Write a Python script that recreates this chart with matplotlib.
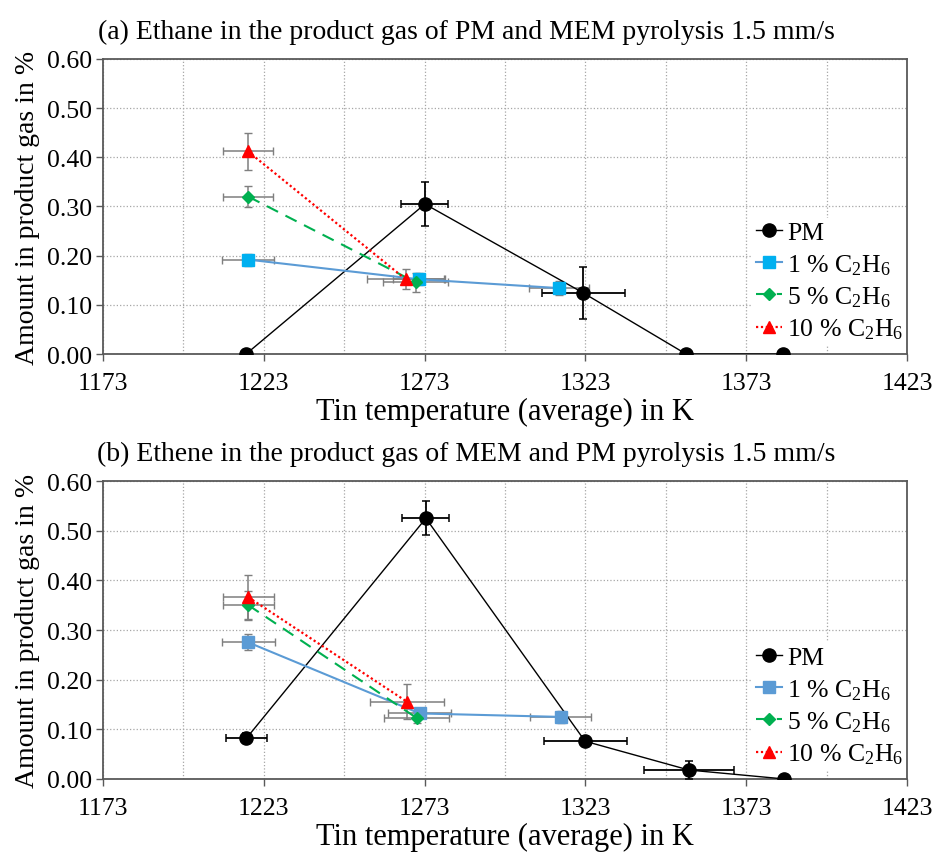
import numpy as np
import matplotlib
matplotlib.use("Agg")
import matplotlib.pyplot as plt
from matplotlib.ticker import FormatStrFormatter

plt.rcParams["font.family"] = ["Liberation Serif", "DejaVu Serif"]
plt.rcParams["mathtext.default"] = "regular"

# (a) Ethane
pm_x_a = [1217.5, 1273.1, 1322.4, 1354.3, 1384.3]
pm_y_a = [0.0, 0.305, 0.124, 0.0, 0.0]
pm_xerr_a = [0, 7.3, 12.8, 0, 0]
pm_yerr_a = [0, 0.045, 0.052, 0, 0]

c1_x_a = [1218.1, 1271.2, 1314.8]
c1_y_a = [0.192, 0.152, 0.134]
c1_xerr_a = [8.0, 8.0, 9.4]
c1_yerr_a = [0.012, 0.012, 0.015]

c5_x_a = [1218.2, 1270.2]
c5_y_a = [0.320, 0.146]
c5_xerr_a = [7.8, 10.0]
c5_yerr_a = [0.022, 0.019]

c10_x_a = [1218.1, 1267.1]
c10_y_a = [0.412, 0.152]
c10_xerr_a = [7.8, 12.0]
c10_yerr_a = [0.038, 0.020]

# (b) Ethene
pm_x_b = [1217.6, 1273.4, 1322.9, 1355.2, 1384.9]
pm_y_b = [0.082, 0.525, 0.076, 0.018, 0.0]
pm_xerr_b = [6.4, 7.3, 12.9, 13.9, 0]
pm_yerr_b = [0.010, 0.034, 0.010, 0.018, 0]

c1_x_b = [1218.2, 1271.5, 1315.3]
c1_y_b = [0.275, 0.132, 0.125]
c1_xerr_b = [8.2, 9.8, 9.5]
c1_yerr_b = [0.016, 0.010, 0.012]

c5_x_b = [1218.2, 1270.5]
c5_y_b = [0.350, 0.123]
c5_xerr_b = [7.9, 10.2]
c5_yerr_b = [0.028, 0.010]

c10_x_b = [1218.2, 1267.4]
c10_y_b = [0.366, 0.156]
c10_xerr_b = [8.0, 11.5]
c10_yerr_b = [0.045, 0.036]

x_ticks = [1173, 1223, 1273, 1323, 1373, 1423]
x_grid_minor = [1198, 1248, 1298, 1348, 1398]
y_ticks = [0.0, 0.1, 0.2, 0.3, 0.4, 0.5, 0.6]

labels = ["PM", "1 % C$_2$H$_6$", "5 % C$_2$H$_6$", "10 % C$_2$H$_6$"]
titles = ["(a) Ethane in the product gas of PM and MEM pyrolysis 1.5 mm/s",
          "(b) Ethene in the product gas of MEM and PM pyrolysis 1.5 mm/s"]

fig = plt.figure(figsize=(9.32, 8.53), dpi=100)
ax_a = fig.add_axes([0.1105, 0.5838, 0.8627, 0.3459])
ax_b = fig.add_axes([0.1105, 0.0856, 0.8627, 0.3493])

panels = [
    (ax_a, titles[0], (pm_x_a, pm_y_a, pm_xerr_a, pm_yerr_a),
     (c1_x_a, c1_y_a, c1_xerr_a, c1_yerr_a),
     (c5_x_a, c5_y_a, c5_xerr_a, c5_yerr_a),
     (c10_x_a, c10_y_a, c10_xerr_a, c10_yerr_a), "#00B0F0"),
    (ax_b, titles[1], (pm_x_b, pm_y_b, pm_xerr_b, pm_yerr_b),
     (c1_x_b, c1_y_b, c1_xerr_b, c1_yerr_b),
     (c5_x_b, c5_y_b, c5_xerr_b, c5_yerr_b),
     (c10_x_b, c10_y_b, c10_xerr_b, c10_yerr_b), "#5B9BD5"),
]

for ax, title, pm, c1, c5, c10, c1_face in panels:
    handles = []
    # PM
    ax.errorbar(pm[0], pm[1], xerr=pm[2], yerr=pm[3], fmt="none",
                ecolor="black", elinewidth=1.3, capsize=3, capthick=1.1, zorder=3)
    h, = ax.plot(pm[0], pm[1], color="black", lw=1.0, marker="o",
                 markersize=9.5, zorder=4)
    handles.append(h)
    # 1 %
    ax.errorbar(c1[0], c1[1], xerr=c1[2], yerr=c1[3], fmt="none",
                ecolor="#7F7F7F", elinewidth=1.1, capsize=3, capthick=1.0, zorder=3)
    h, = ax.plot(c1[0], c1[1], color="#5B9BD5", lw=1.5, marker="s",
                 markersize=8, markerfacecolor=c1_face, markeredgecolor=c1_face,
                 zorder=4)
    handles.append(h)
    # 5 %
    ax.errorbar(c5[0], c5[1], xerr=c5[2], yerr=c5[3], fmt="none",
                ecolor="#7F7F7F", elinewidth=1.1, capsize=3, capthick=1.0, zorder=3)
    h, = ax.plot(c5[0], c5[1], color="#00B050", lw=1.5, ls=(0, (6, 4)),
                 marker="D", markersize=6.5, zorder=4)
    handles.append(h)
    # 10 %
    ax.errorbar(c10[0], c10[1], xerr=c10[2], yerr=c10[3], fmt="none",
                ecolor="#7F7F7F", elinewidth=1.1, capsize=3, capthick=1.0, zorder=3)
    h, = ax.plot(c10[0], c10[1], color="#FF0000", lw=1.6, ls=(0, (1, 1.2)),
                 marker="^", markersize=9, zorder=4)
    handles.append(h)

    ax.set_xlim(1173, 1423)
    ax.set_ylim(0, 0.6)
    ax.set_xticks(x_ticks)
    ax.set_xticks(x_grid_minor, minor=True)
    ax.set_yticks(y_ticks)
    ax.yaxis.set_major_formatter(FormatStrFormatter("%.2f"))
    ax.grid(which="both", axis="x", color="#A6A6A6", ls=":", lw=0.9)
    ax.grid(which="major", axis="y", color="#A6A6A6", ls=":", lw=0.9)
    ax.set_axisbelow(True)
    ax.tick_params(axis="x", which="minor", length=0)
    ax.tick_params(axis="both", which="major", direction="out", length=5,
                   width=1.0, color="#595959", labelsize=18.5)
    ax.tick_params(axis="x", which="major", pad=8)
    ax.tick_params(axis="y", which="major", pad=3)
    for sp in ax.spines.values():
        sp.set_color("#595959")
        sp.set_linewidth(1.3)

    ax.set_xlabel("Tin temperature (average) in K", fontsize=22, labelpad=2)
    ax.set_ylabel("Amount in product gas in %", fontsize=20, labelpad=5)
    # title is centred on the figure, not on the axes
    ax.set_title(title, fontsize=20, pad=15, x=0.4515)

    leg = ax.legend(handles, labels, loc="lower right", bbox_to_anchor=(1.0, 0.03),
                    frameon=True, fontsize=18.5, handlelength=1.0,
                    handletextpad=0.2, labelspacing=0.3, borderaxespad=0.0,
                    borderpad=0.15)
    leg.get_frame().set_edgecolor("none")
    leg.get_frame().set_facecolor("white")
    leg.get_frame().set_alpha(1.0)
    leg.set_zorder(2)  # keep the spine drawn over the legend box

fig.savefig("out.png", dpi=100)
